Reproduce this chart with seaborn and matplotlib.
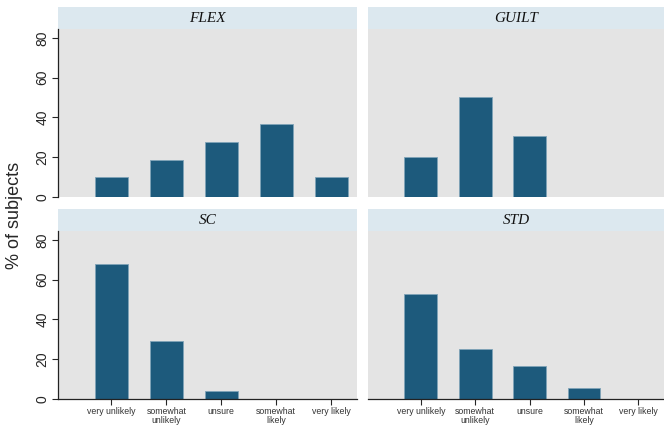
import numpy as np
import matplotlib
matplotlib.use('Agg')
import matplotlib.pyplot as plt
import seaborn as sns
import pandas as pd
from matplotlib.patches import Rectangle

categories = ['very unlikely', 'somewhat\nunlikely', 'unsure', 'somewhat\nlikely', 'very likely']
panels = ['FLEX', 'GUILT', 'SC', 'STD']
flex = [10, 18.5, 27.5, 36.8, 10]
guilt = [20.3, 50.3, 30.7, 0, 0]
sc = [67.8, 29, 4, 0, 0]
std = [53, 25.3, 16.8, 5.7, 0]

rows = []
for name, vals in zip(panels, [flex, guilt, sc, std]):
    for c, v in zip(categories, vals):
        rows.append({'panel': name, 'response': c, 'pct': v})
df = pd.DataFrame(rows)

sns.set_style('white')
plt.rcParams['font.family'] = ['Liberation Sans', 'DejaVu Sans']

bar_color = '#1d5a7c'
fig = plt.figure(figsize=(6.64, 4.26), dpi=100)

W, H = 664, 426
boxes = {
    'FLEX': (58, 29, 299, 168),
    'GUILT': (368, 29, 296, 168),
    'SC': (58, 231, 299, 168),
    'STD': (368, 231, 296, 168),
}

for name in panels:
    x, y, w, h = boxes[name]
    ax = fig.add_axes([x / W, 1 - (y + h) / H, w / W, h / H])
    ax.set_facecolor('#e4e4e4')
    sub = df[df['panel'] == name]
    sns.barplot(data=sub, x='response', y='pct', order=categories, color=bar_color,
                width=0.6, edgecolor='#7fa3b8', linewidth=0.6, saturation=1, ax=ax)
    for p in ax.patches:
        if p.get_height() == 0:
            p.set_visible(False)
    ax.set_xlim(-0.97, 4.47)
    ax.set_ylim(0, 84.5)
    for s in ['top', 'right']:
        ax.spines[s].set_visible(False)
    ax.set_xlabel('')
    ax.set_ylabel('')

    left = name in ('FLEX', 'SC')
    bottom = name in ('SC', 'STD')
    ax.spines['left'].set_visible(left)
    ax.spines['bottom'].set_visible(bottom)
    for s in ['left', 'bottom']:
        ax.spines[s].set_color('#222222')
        ax.spines[s].set_linewidth(0.9)

    ax.set_yticks([0, 20, 40, 60, 80])
    if left:
        ax.tick_params(axis='y', left=True, length=4, width=0.8, labelsize=10,
                       labelrotation=90, pad=2)
        for lab in ax.get_yticklabels():
            lab.set_va('center')
    else:
        ax.tick_params(axis='y', left=False, labelleft=False)

    if bottom:
        ax.tick_params(axis='x', bottom=True, length=4, width=0.8, labelsize=6.3,
                       labelcolor='#333333', pad=2)
        for lab in ax.get_xticklabels():
            lab.set_linespacing(1.0)
    else:
        ax.tick_params(axis='x', bottom=False, labelbottom=False)

    # strip
    sh = 22 / h
    ax.add_patch(Rectangle((0, 1), 1, sh, transform=ax.transAxes, facecolor='#dce8ef',
                           edgecolor='none', clip_on=False))
    ax.text(0.5, 1 + sh / 2, name, transform=ax.transAxes, ha='center', va='center',
            fontsize=11, style='italic', family='Liberation Serif', color='#111111')

fig.text(15 / W, 1 - 215 / H, '% of subjects', rotation=90, ha='center', va='center',
         fontsize=13)

fig.savefig('out.png', dpi=100)
